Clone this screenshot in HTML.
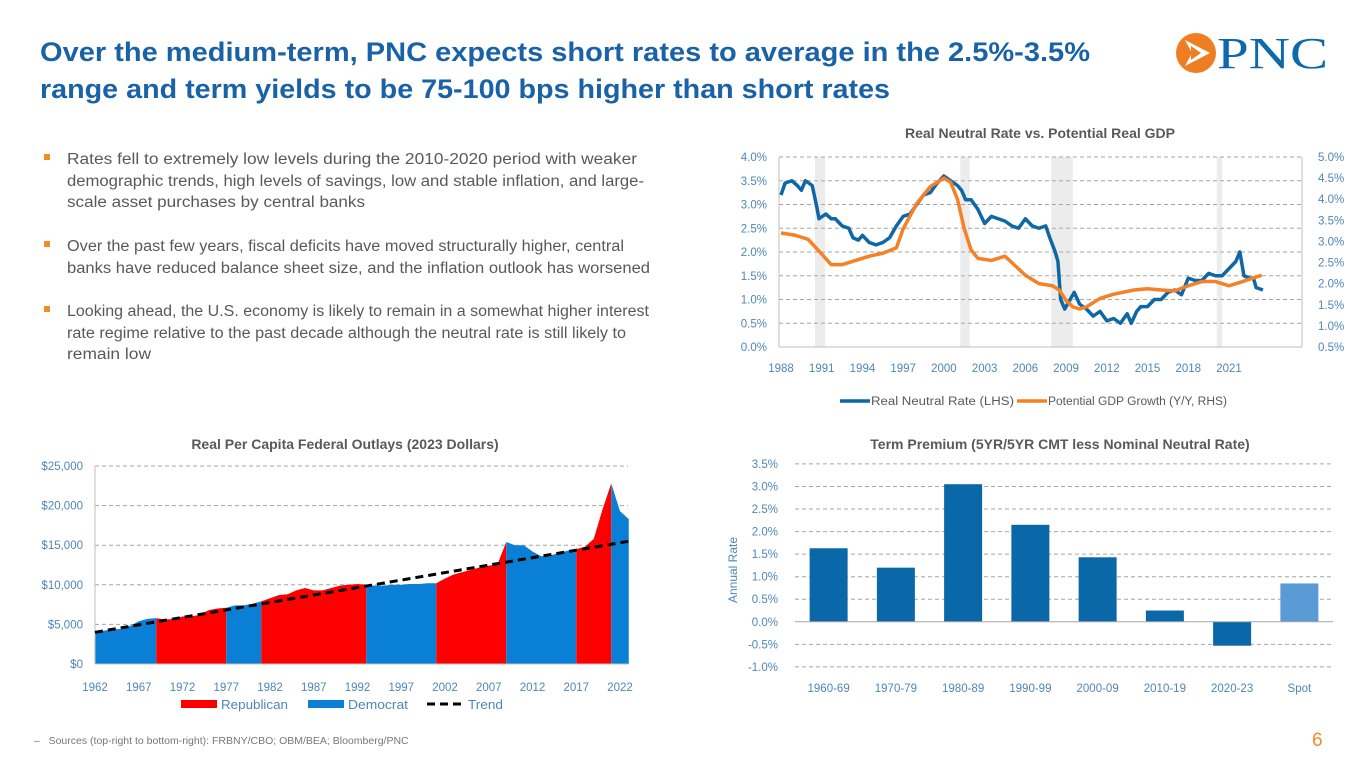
<!DOCTYPE html>
<html><head><meta charset="utf-8"><style>
html,body{margin:0;padding:0;background:#fff;}
svg{display:block;font-family:"Liberation Sans",sans-serif;}
</style></head><body>
<svg id="s" width="1365" height="768" viewBox="0 0 1365 768">
<g fill="#1a62a8" font-weight="bold" font-size="27">
<text x="40" y="61" textLength="1050" lengthAdjust="spacingAndGlyphs">Over the medium-term, PNC expects short rates to average in the 2.5%-3.5%</text>
<text x="40" y="98" textLength="850" lengthAdjust="spacingAndGlyphs">range and term yields to be 75-100 bps higher than short rates</text>
</g>
<g>
<circle cx="1196" cy="53" r="20" fill="#ef7d22"/>
<path d="M1185 40 L1210 53 L1185 66 L1192 53 Z" fill="#fff"/>
<path d="M1191 46 L1201 53 L1191 60 Z" fill="#ef7d22"/>
<text x="1217" y="68" font-family="Liberation Serif,serif" font-size="44" fill="#0b69ac" textLength="111" lengthAdjust="spacingAndGlyphs">PNC</text>
</g>
<g fill="#595959" font-size="15.5">
<rect x="44" y="154" width="6" height="6" fill="#f28c28"/>
<text x="67" y="164" textLength="570" lengthAdjust="spacingAndGlyphs">Rates fell to extremely low levels during the 2010-2020 period with weaker</text>
<text x="67" y="186" textLength="577" lengthAdjust="spacingAndGlyphs">demographic trends, high levels of savings, low and stable inflation, and large-</text>
<text x="67" y="207" textLength="298" lengthAdjust="spacingAndGlyphs">scale asset purchases by central banks</text>
<rect x="44" y="241" width="6" height="6" fill="#f28c28"/>
<text x="67" y="251" textLength="557" lengthAdjust="spacingAndGlyphs">Over the past few years, fiscal deficits have moved structurally higher, central</text>
<text x="67" y="273" textLength="583" lengthAdjust="spacingAndGlyphs">banks have reduced balance sheet size, and the inflation outlook has worsened</text>
<rect x="44" y="306" width="6" height="6" fill="#f28c28"/>
<text x="67" y="316" textLength="582" lengthAdjust="spacingAndGlyphs">Looking ahead, the U.S. economy is likely to remain in a somewhat higher interest</text>
<text x="67" y="338" textLength="559" lengthAdjust="spacingAndGlyphs">rate regime relative to the past decade although the neutral rate is still likely to</text>
<text x="67" y="359" textLength="84" lengthAdjust="spacingAndGlyphs">remain low</text>
</g>
<g id="c1"></g>
<g id="c2"></g>
<g id="c3"></g>
<text x="34" y="744" font-size="10.5" fill="#777">–&#160;&#160; Sources (top-right to bottom-right): FRBNY/CBO; OBM/BEA; Bloomberg/PNC</text>
<text x="1312" y="746" font-size="19" fill="#f28c28">6</text>
</svg>
<script>
// ---- Chart 1 data ----
const c1Years = [1988,1988.3,1988.8,1989.2,1989.5,1989.8,1990.3,1990.6,1990.8,1991.3,1991.7,1992,1992.5,1993,1993.3,1993.7,1994,1994.5,1995,1995.5,1996,1996.5,1997,1997.5,1998,1998.5,1999,1999.5,2000,2000.5,2001,2001.3,2001.6,2002,2002.5,2003,2003.5,2004,2004.5,2005,2005.5,2006,2006.5,2007,2007.5,2007.8,2008.2,2008.4,2008.6,2008.9,2009.3,2009.6,2010,2010.5,2011,2011.5,2012,2012.5,2013,2013.5,2013.8,2014.2,2014.5,2015,2015.5,2016,2016.5,2017,2017.5,2018,2018.5,2019,2019.5,2020,2020.5,2021,2021.5,2021.8,2022.1,2022.5,2022.8,2023,2023.5];
const c1Neutral = [3.2,3.45,3.5,3.4,3.3,3.5,3.4,3.0,2.7,2.8,2.7,2.7,2.55,2.5,2.3,2.25,2.35,2.2,2.15,2.2,2.3,2.55,2.75,2.8,3.0,3.2,3.25,3.45,3.6,3.5,3.4,3.3,3.1,3.1,2.9,2.6,2.75,2.7,2.65,2.55,2.5,2.7,2.55,2.5,2.55,2.3,2.0,1.8,1.0,0.8,1.0,1.15,0.9,0.8,0.65,0.75,0.55,0.6,0.5,0.7,0.5,0.75,0.85,0.85,1.0,1.0,1.15,1.2,1.1,1.45,1.4,1.4,1.55,1.5,1.5,1.65,1.8,2.0,1.5,1.45,1.45,1.25,1.2];
const c1GdpYears = [1988,1989,1990,1991,1991.7,1992.5,1993.5,1994.5,1995.5,1996.5,1997,1998,1999,2000,2000.5,2001,2001.5,2002,2002.5,2003.5,2004.5,2005,2006,2007,2008,2008.5,2009,2009.5,2010,2010.5,2011.5,2012.5,2014,2015,2016,2017,2018,2019,2020,2021,2022,2023.4];
const c1Gdp = [3.2,3.15,3.05,2.7,2.45,2.45,2.55,2.65,2.72,2.85,3.3,3.9,4.3,4.5,4.4,4.0,3.3,2.8,2.6,2.55,2.65,2.5,2.2,2.0,1.95,1.85,1.6,1.45,1.4,1.45,1.65,1.75,1.85,1.88,1.85,1.83,1.95,2.05,2.05,1.95,2.05,2.2];
const c1Recessions = [[1990.5,1991.25],[2001.2,2001.9],[2007.9,2009.5],[2020.1,2020.5]];
const c1LeftTicks = [0,0.5,1,1.5,2,2.5,3,3.5,4];
const c1RightTicks = [0.5,1,1.5,2,2.5,3,3.5,4,4.5,5];
const c1XTicks = [1988,1991,1994,1997,2000,2003,2006,2009,2012,2015,2018,2021];
// ---- Chart 2 data ----
const c2Years = [1962,1963,1964,1965,1966,1967,1968,1969,1970,1971,1972,1973,1974,1975,1976,1977,1978,1979,1980,1981,1982,1983,1984,1985,1986,1987,1988,1989,1990,1991,1992,1993,1994,1995,1996,1997,1998,1999,2000,2001,2002,2003,2004,2005,2006,2007,2008,2009,2010,2011,2012,2013,2014,2015,2016,2017,2018,2019,2020,2021,2022,2023];
const c2Outlays = [4.1,4.2,4.4,4.4,4.8,5.4,5.7,5.8,5.6,5.7,6.0,6.0,6.2,6.8,7.0,7.1,7.4,7.4,7.6,7.9,8.3,8.7,8.8,9.3,9.6,9.3,9.3,9.6,9.9,10.0,10.1,10.0,9.9,9.9,10.0,10.0,10.1,10.1,10.2,10.2,10.8,11.3,11.6,11.9,12.2,12.4,12.6,15.4,15.0,15.0,14.2,13.6,13.7,14.0,14.3,14.5,14.8,15.8,19.5,22.8,19.3,18.3];
const c2Terms = [[1962,1969,"D"],[1969,1977,"R"],[1977,1981,"D"],[1981,1993,"R"],[1993,2001,"D"],[2001,2009,"R"],[2009,2017,"D"],[2017,2021,"R"],[2021,2023,"D"]];
const c2TrendYears = [1962,2023];
const c2Trend = [4.0,15.5];
const c2YTicks = [0,5,10,15,20,25];
const c2XTicks = [1962,1967,1972,1977,1982,1987,1992,1997,2002,2007,2012,2017,2022];
// ---- Chart 3 data ----
const c3Cats = ["1960-69","1970-79","1980-89","1990-99","2000-09","2010-19","2020-23","Spot"];
const c3Vals = [1.63,1.2,3.05,2.15,1.43,0.25,-0.53,0.85];
const c3YTicks = [-1,-0.5,0,0.5,1,1.5,2,2.5,3,3.5];

const NS="http://www.w3.org/2000/svg";
function mk(parent,tag,attrs,txt){const e=document.createElementNS(NS,tag);for(const k in attrs)e.setAttribute(k,attrs[k]);if(txt!==undefined)e.textContent=txt;parent.appendChild(e);return e;}
const TICK="#4f86b8", GRID="#a6a6a6", TITLE="#595959";

// ===== Chart 1 =====
(function(){
const g=document.getElementById('c1');
const X0=779,X1=1302,Y0=347,Y1=157;
const x=y=>781+(y-1988)*(1229-781)/33;
const yl=v=>Y0-(v-0)*(Y0-Y1)/4;
const yr=v=>Y0-(v-0.5)*(Y0-Y1)/4.5;
let t=mk(g,'text',{x:1040,y:138,'text-anchor':'middle','font-size':14,'font-weight':'bold',fill:TITLE},'Real Neutral Rate vs. Potential Real GDP');


c1Recessions.forEach(r=>{const e=mk(g,'rect',{x:x(r[0]),y:Y1,width:x(r[1])-x(r[0]),height:Y0-Y1,fill:'#ececec'});

});
c1LeftTicks.forEach(v=>{if(v>0){const e=mk(g,'line',{x1:X0,x2:X1,y1:yl(v),y2:yl(v),stroke:GRID,'stroke-dasharray':'4,3'});

}
const l=mk(g,'text',{x:767,y:yl(v)+4,'text-anchor':'end','font-size':11.5,fill:TICK},v.toFixed(1)+'%');

});
c1RightTicks.forEach(v=>{const l=mk(g,'text',{x:1318,y:yr(v)+4,'font-size':11.5,fill:TICK},v.toFixed(1)+'%');

});
mk(g,'line',{x1:X0,x2:X0,y1:Y1,y2:Y0,stroke:'#bfbfbf'});
mk(g,'line',{x1:X1,x2:X1,y1:Y1,y2:Y0,stroke:'#bfbfbf'});
mk(g,'line',{x1:X0,x2:X1,y1:Y0,y2:Y0,stroke:'#bfbfbf'});
c1XTicks.forEach(v=>{const l=mk(g,'text',{x:x(v),y:372,'text-anchor':'middle','font-size':11.5,fill:TICK},String(v));

});
const p1=mk(g,'polyline',{points:c1Years.map((y,i)=>x(y)+','+yl(c1Neutral[i])).join(' '),fill:'none',stroke:'#0f67a6','stroke-width':3.5,'stroke-linejoin':'round'});


const p2=mk(g,'polyline',{points:c1GdpYears.map((y,i)=>x(y)+','+yr(c1Gdp[i])).join(' '),fill:'none',stroke:'#f58025','stroke-width':3.5,'stroke-linejoin':'round'});


const lg=mk(g,'g',{});


mk(lg,'line',{x1:840,x2:870,y1:401,y2:401,stroke:'#0f67a6','stroke-width':3.5});
mk(lg,'text',{x:871,y:405,'font-size':11.5,fill:TITLE,textLength:143,lengthAdjust:'spacingAndGlyphs'},'Real Neutral Rate (LHS)');
mk(lg,'line',{x1:1017,x2:1047,y1:401,y2:401,stroke:'#f58025','stroke-width':3.5});
mk(lg,'text',{x:1048,y:405,'font-size':11.5,fill:TITLE,textLength:179,lengthAdjust:'spacingAndGlyphs'},'Potential GDP Growth (Y/Y, RHS)');
})();

// ===== Chart 2 =====
(function(){
const g=document.getElementById('c2');
const X0=95,X1=628,Y0=664,Y1=466;
const x=y=>95+(y-1962)*(620-95)/60;
const y=v=>Y0-v*(Y0-Y1)/25;
let t=mk(g,'text',{x:345,y:449,'text-anchor':'middle','font-size':14,'font-weight':'bold',fill:TITLE},'Real Per Capita Federal Outlays (2023 Dollars)');


c2YTicks.forEach(v=>{if(v>0){const e=mk(g,'line',{x1:X0,x2:X1,y1:y(v),y2:y(v),stroke:GRID,'stroke-dasharray':'4,3'});

}
const l=mk(g,'text',{x:83,y:y(v)+4,'text-anchor':'end','font-size':11.5,fill:TICK},'$'+(v*1000).toLocaleString('en-US'));

});
c2Terms.forEach(tm=>{
 const pts=[];
 c2Years.forEach((yy,i)=>{if(yy>=tm[0]&&yy<=tm[1])pts.push(x(yy)+','+y(c2Outlays[i]));});
 const d='M'+x(tm[0])+','+y(0)+' L'+pts.join(' L')+' L'+x(tm[1])+','+y(0)+' Z';
 const e=mk(g,'path',{d:d,fill:tm[2]==='R'?'#ff0000':'#0a7fd6'});
 
 
});
mk(g,'line',{x1:X0,x2:X1,y1:Y0,y2:Y0,stroke:'#bfbfbf'});
mk(g,'line',{x1:X0,x2:X0,y1:Y1,y2:Y0,stroke:'#bfbfbf'});
const tr=mk(g,'line',{x1:x(c2TrendYears[0]),y1:y(c2Trend[0]),x2:x(c2TrendYears[1]),y2:y(c2Trend[1]),stroke:'#000','stroke-width':3,'stroke-dasharray':'8,5'});


c2XTicks.forEach(v=>{const l=mk(g,'text',{x:x(v),y:691,'text-anchor':'middle','font-size':11.5,fill:TICK},String(v));

});
const lg=mk(g,'g',{});


mk(lg,'rect',{x:181,y:700,width:36,height:8,fill:'#ff0000'});
mk(lg,'text',{x:221,y:709,'font-size':12.5,fill:TICK,textLength:67,lengthAdjust:'spacingAndGlyphs'},'Republican');
mk(lg,'rect',{x:308,y:700,width:36,height:8,fill:'#0a7fd6'});
mk(lg,'text',{x:348,y:709,'font-size':12.5,fill:TICK,textLength:60,lengthAdjust:'spacingAndGlyphs'},'Democrat');
mk(lg,'line',{x1:427,x2:462,y1:704,y2:704,stroke:'#000','stroke-width':3,'stroke-dasharray':'8,5'});
mk(lg,'text',{x:468,y:709,'font-size':12.5,fill:TICK,textLength:35,lengthAdjust:'spacingAndGlyphs'},'Trend');
})();

// ===== Chart 3 =====
(function(){
const g=document.getElementById('c3');
const X0=795,X1=1333;
const y=v=>621.8-v*(666-463)/4.5;
const step=(X1-X0)/c3Cats.length;
const cx=i=>X0+step*(i+0.5);
let t=mk(g,'text',{x:1060,y:449,'text-anchor':'middle','font-size':14,'font-weight':'bold',fill:TITLE},'Term Premium (5YR/5YR CMT less Nominal Neutral Rate)');


c3YTicks.forEach(v=>{if(v!==0){const e=mk(g,'line',{x1:X0,x2:X1,y1:y(v),y2:y(v),stroke:GRID,'stroke-dasharray':'4,3'});

}
const l=mk(g,'text',{x:778,y:y(v)+4,'text-anchor':'end','font-size':11.5,fill:TICK},v.toFixed(1)+'%');

});
const at=mk(g,'text',{transform:'translate(737,570) rotate(-90)','text-anchor':'middle','font-size':12,fill:TICK},'Annual Rate');


c3Vals.forEach((v,i)=>{const top=Math.min(y(v),y(0));const h=Math.abs(y(v)-y(0));
const b=mk(g,'rect',{x:cx(i)-19,y:top,width:38,height:h,fill:c3Cats[i]==='Spot'?'#5b9bd5':'#0a67a8'});


const l=mk(g,'text',{x:cx(i),y:692,'text-anchor':'middle','font-size':11.5,fill:TICK},c3Cats[i]);

});
mk(g,'line',{x1:X0,x2:X1,y1:y(0),y2:y(0),stroke:'#a6a6a6'});
})();
</script>
</body></html>
